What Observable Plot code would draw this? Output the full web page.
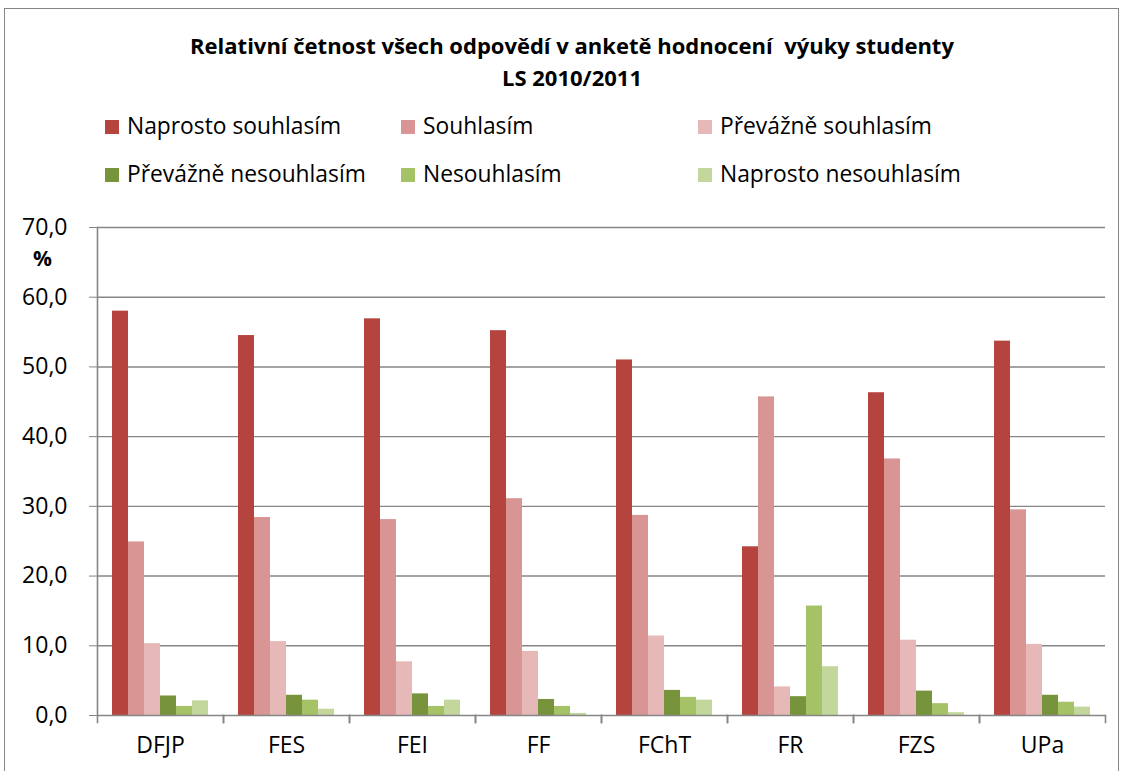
<!DOCTYPE html>
<html>
<head>
<meta charset="utf-8">
<script src="https://cdn.jsdelivr.net/npm/d3@7"></script>
<script src="https://cdn.jsdelivr.net/npm/@observablehq/plot@0.6"></script>
<style>
  html, body { margin: 0; padding: 0; background: #fff; overflow: hidden; }
  body { width: 1122px; height: 771px; position: relative; font-family: "Open Sans", Lato, sans-serif; color: #000; }
  #border { position: absolute; left: 4px; top: 8px; width: 1115px; height: 800px; border: 1px solid #868686; box-sizing: border-box; }
  #title { position: absolute; left: 11px; top: 29px; width: 1122px; text-align: center; font-weight: bold; font-size: 22px; line-height: 32px; }
  .leg { position: absolute; font-size: 22.8px; line-height: 26px; white-space: nowrap; }
  .sw { position: absolute; width: 14px; height: 14px; }
  #pct { position: absolute; left: 33px; top: 244px; font-weight: bold; font-size: 21px; }
  #chart { position: absolute; left: 0; top: 200px; }
</style>
</head>
<body>
<div id="border"></div>
<div id="title">Relativní četnost všech odpovědí v anketě hodnocení&nbsp; výuky studenty<br>LS 2010/2011</div>
<div id="legend"></div>
<div id="pct">%</div>
<div id="chart"></div>
<script>
const faculties = ["DFJP", "FES", "FEI", "FF", "FChT", "FR", "FZS", "UPa"];
const series = ["Naprosto souhlasím", "Souhlasím", "Převážně souhlasím", "Převážně nesouhlasím", "Nesouhlasím", "Naprosto nesouhlasím"];
const colors = ["#B5443F", "#D99594", "#E6B9B8", "#77933C", "#A5C266", "#C3D69B"];
const naprostoSouhlasim   = [58.0, 54.5, 56.9, 55.2, 51.0, 24.2, 46.3, 53.7];
const souhlasim           = [24.9, 28.4, 28.1, 31.1, 28.7, 45.7, 36.8, 29.5];
const prevazneSouhlasim   = [10.3, 10.6, 7.7, 9.2, 11.4, 4.1, 10.8, 10.2];
const prevazneNesouhlasim = [2.8, 2.9, 3.1, 2.3, 3.6, 2.7, 3.5, 2.9];
const nesouhlasim         = [1.3, 2.2, 1.3, 1.3, 2.6, 15.7, 1.7, 1.9];
const naprostoNesouhlasim = [2.1, 0.9, 2.2, 0.3, 2.2, 7.0, 0.4, 1.2];
const yTicks = [0, 10, 20, 30, 40, 50, 60, 70];

const seriesValues = [naprostoSouhlasim, souhlasim, prevazneSouhlasim, prevazneNesouhlasim, nesouhlasim, naprostoNesouhlasim];
const table = [];
faculties.forEach((f, i) => series.forEach((s, j) => table.push({faculty: f, series: s, value: seriesValues[j][i]})));

// legend (HTML)
const legendPos = [[105, 120], [401, 120], [698, 120], [105, 168], [401, 168], [698, 168]];
const legend = document.getElementById("legend");
series.forEach((s, j) => {
  const [lx, ly] = legendPos[j];
  const sw = document.createElement("div");
  sw.className = "sw";
  sw.style.left = lx + "px"; sw.style.top = ly + "px"; sw.style.background = colors[j];
  legend.appendChild(sw);
  const t = document.createElement("div");
  t.className = "leg";
  t.style.left = (lx + 22) + "px"; t.style.top = (ly - 7) + "px";
  t.textContent = s;
  legend.appendChild(t);
});

const fmt = d => d.toFixed(1).replace(".", ",");
const gray = "#868686";

const chart = Plot.plot({
  width: 1122,
  height: 571,
  marginLeft: 93,
  marginRight: 14,
  marginTop: 27,
  marginBottom: 56,
  style: {fontFamily: "'Open Sans', Lato, sans-serif", fontSize: "23px", color: "#000", background: "transparent"},
  fx: {domain: faculties, padding: 0, label: null, axis: null},
  x: {domain: series, paddingInner: 0, paddingOuter: 0.735, axis: null},
  y: {domain: [0, 70], axis: null},
  color: {domain: series, range: colors},
  marks: [
    Plot.ruleY(yTicks.filter(d => d > 0), {y: d => d, stroke: gray, strokeWidth: 1.4}),
    Plot.barY(table, {fx: "faculty", x: "series", y: "value", fill: "series"}),
    Plot.ruleY([0], {stroke: gray, strokeWidth: 1.6}),
    Plot.frame({anchor: "left", facet: "super", stroke: gray, strokeWidth: 1.6}),
    Plot.frame({anchor: "left", insetTop: 488, insetBottom: -7, stroke: gray, strokeWidth: 1.6}),
    Plot.frame({anchor: "right", insetTop: 488, insetBottom: -7, stroke: gray, strokeWidth: 1.6}),
    Plot.axisY(yTicks, {tickSize: 8, tickPadding: 22, tickFormat: fmt, stroke: gray, fill: "#000", fontSize: 23, label: null}),
    Plot.axisFx({anchor: "bottom", tickSize: 0, tickPadding: 21, fill: "#000", fontSize: 23, label: null})
  ]
});
document.getElementById("chart").appendChild(chart);
</script>
</body>
</html>
